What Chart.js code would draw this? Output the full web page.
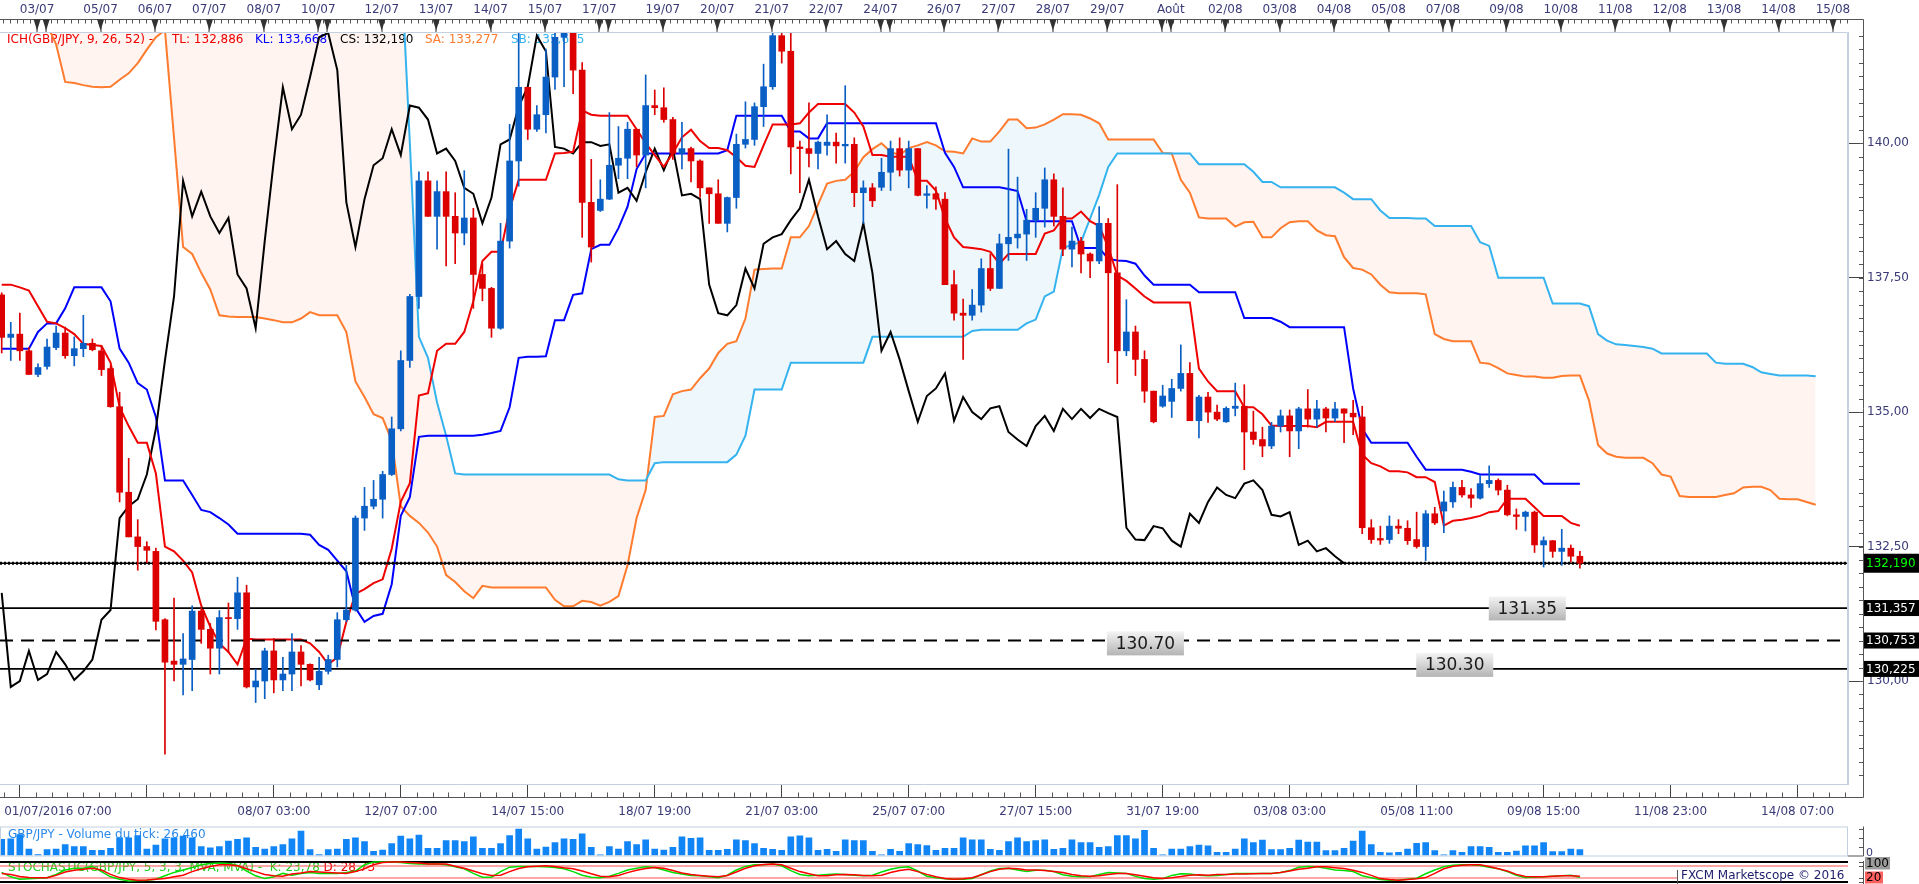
<!DOCTYPE html>
<html>
<head>
<meta charset="utf-8">
<script src="https://cdn.jsdelivr.net/npm/chart.js@4.4.1/dist/chart.umd.min.js"></script>
<style>
  body { margin: 0; background: #fff; }
  canvas { position: absolute; left: 0; top: 0; }
</style>
</head>
<body>
<canvas id="mainChart" width="1919" height="884"></canvas>
<canvas id="volChart" width="1919" height="884"></canvas>
<canvas id="stochChart" width="1919" height="884"></canvas>
<script>
// GBP/JPY 4h candles, bar index 0..174
const opens = [
  137.18,136.39,136.45,136.14,135.70,135.85,136.20,136.47,136.05,136.18,
  136.28,136.14,135.81,135.10,133.51,132.68,132.50,132.41,131.14,130.37,
  130.31,130.40,131.30,130.96,130.61,131.18,131.16,131.64,129.89,130.00,
  130.56,130.02,130.13,130.54,130.31,129.93,130.18,130.40,131.14,131.32,
  133.03,133.25,133.38,133.84,134.69,135.96,137.15,139.30,138.64,139.10,
  138.64,138.33,138.61,137.56,137.30,136.56,138.18,139.67,141.04,140.26,
  140.53,141.23,141.97,142.05,141.36,138.90,138.75,138.96,139.59,139.72,
  140.26,139.78,140.70,140.66,140.44,139.81,139.90,139.67,139.17,139.06,
  138.51,138.99,139.98,140.07,140.68,141.05,142.00,141.71,139.93,139.90,
  139.81,139.96,140.02,139.95,139.98,139.08,139.17,139.18,139.46,139.90,
  139.50,139.90,139.03,139.06,138.96,137.37,136.84,136.80,136.99,137.67,
  137.30,138.13,138.24,138.31,138.57,138.79,139.32,138.64,138.03,138.18,
  137.94,137.81,138.51,137.59,136.14,136.49,135.98,135.39,135.11,135.20,
  135.44,135.72,134.84,135.28,135.00,134.82,135.07,135.11,134.63,134.49,
  134.37,134.74,134.93,134.65,135.06,134.87,135.06,134.89,135.06,134.98,
  134.91,132.85,132.65,132.63,132.88,132.84,132.63,132.50,133.11,133.16,
  133.33,133.60,133.46,133.40,133.67,133.73,133.55,133.09,133.06,133.14,
  132.53,132.61,132.41,132.47,132.32
];
const highs = [
  137.22,136.67,136.84,136.20,135.90,136.36,136.60,136.58,136.40,136.80,
  136.36,136.23,135.86,135.37,134.14,133.00,132.59,132.47,131.16,131.54,
  130.88,131.40,131.36,131.07,131.31,131.45,131.93,131.78,130.22,130.61,
  130.79,130.44,130.88,130.66,130.32,130.44,130.48,131.27,132.15,133.07,
  133.60,133.73,133.90,134.91,136.14,137.19,139.47,139.47,139.30,139.47,
  139.08,139.49,138.79,137.76,137.32,138.51,140.35,142.30,141.04,140.70,
  141.75,142.30,142.40,142.50,141.50,139.70,139.32,140.57,140.31,140.39,
  140.26,141.27,140.99,141.03,140.48,140.39,139.93,139.69,139.17,139.32,
  139.00,140.17,140.77,140.75,141.47,142.20,142.10,142.06,140.04,140.75,
  140.04,140.53,140.19,141.07,140.10,139.30,139.25,139.72,140.04,140.10,
  140.04,139.90,139.21,139.19,139.08,137.63,137.10,137.28,137.85,137.94,
  138.31,139.89,139.37,138.77,139.08,139.54,139.43,139.17,138.44,138.25,
  137.96,138.82,138.60,139.23,137.09,136.60,136.14,135.39,135.50,135.61,
  136.25,135.92,135.31,135.37,135.13,135.10,135.54,135.51,135.02,134.72,
  134.81,135.04,135.04,135.09,135.42,135.22,135.09,135.18,135.06,135.22,
  135.11,133.00,132.88,133.07,133.00,132.98,133.14,133.17,133.23,133.53,
  133.70,133.73,133.58,133.82,134.00,133.76,133.64,133.20,133.16,133.16,
  132.68,132.61,132.82,132.53,132.41
];
const lows = [
  136.10,135.96,135.96,135.70,135.66,135.80,136.16,136.00,135.86,136.03,
  136.14,135.68,135.09,133.33,132.68,132.06,132.20,130.95,128.64,130.00,
  129.74,129.82,130.70,130.13,130.13,130.53,130.96,129.87,129.60,129.67,
  129.78,129.82,129.82,129.91,130.00,129.84,130.13,130.26,131.10,131.30,
  132.80,133.20,133.03,133.82,134.65,135.83,136.93,138.64,138.03,137.72,
  137.76,138.11,136.93,137.07,136.39,136.54,138.05,139.20,140.07,140.22,
  140.19,141.00,141.05,140.92,138.25,137.79,138.73,138.95,139.34,139.34,
  139.56,139.17,140.53,140.39,139.70,139.52,139.28,138.99,138.51,138.51,
  138.35,138.79,139.91,139.96,140.31,141.00,141.49,139.43,139.08,139.56,
  139.52,139.78,139.63,139.63,138.82,138.51,138.82,139.12,139.12,139.39,
  139.17,139.02,138.79,138.77,137.37,136.71,135.98,136.71,136.86,137.26,
  137.30,137.82,138.05,137.82,138.25,138.44,138.46,137.91,137.70,137.59,
  137.50,137.76,135.92,135.53,136.05,135.68,135.18,134.80,135.09,134.90,
  135.39,134.84,134.52,134.81,134.84,134.81,134.93,133.93,134.40,134.17,
  134.32,134.63,134.17,134.32,134.72,134.72,134.63,134.82,134.43,134.58,
  132.74,132.56,132.54,132.56,132.74,132.54,132.47,132.24,132.91,132.76,
  133.23,133.42,133.23,133.38,133.60,133.46,133.07,132.82,132.79,132.39,
  132.12,132.30,132.15,132.21,132.10
];
const closes = [
  136.39,136.45,136.14,135.70,135.83,136.21,136.47,136.05,136.18,136.28,
  136.16,135.79,135.10,133.51,132.68,132.50,132.43,131.11,130.35,130.31,
  130.41,131.30,130.96,130.61,131.18,131.16,131.64,129.89,130.00,130.56,
  130.02,130.13,130.54,130.31,130.02,130.18,130.40,131.14,131.32,133.03,
  133.25,133.38,133.84,134.69,135.96,137.15,139.30,138.64,139.10,138.64,
  138.33,138.61,137.56,137.30,136.56,138.18,139.67,141.04,140.26,140.53,
  141.23,141.97,142.05,141.36,138.90,138.07,138.96,139.59,139.72,140.26,
  139.78,140.70,140.66,140.44,139.81,139.90,139.67,139.17,139.06,138.51,
  138.99,139.98,140.07,140.68,141.05,142.00,141.71,139.93,139.90,139.81,
  140.02,140.02,139.95,139.98,139.08,139.17,138.93,139.46,139.90,139.50,
  139.90,139.03,139.06,138.96,137.37,136.84,136.80,136.99,137.67,137.30,
  138.13,138.25,138.31,138.57,138.79,139.32,138.64,138.03,138.18,137.94,
  137.81,138.51,137.59,136.14,136.49,135.98,135.39,134.82,135.30,135.44,
  135.72,134.84,135.28,135.00,134.87,135.07,135.11,134.63,134.49,134.37,
  134.74,134.93,134.65,135.06,134.87,135.06,134.89,135.06,134.98,134.91,
  132.85,132.63,132.62,132.88,132.84,132.61,132.50,133.11,132.94,133.33,
  133.60,133.46,133.40,133.67,133.73,133.55,133.09,133.06,133.14,132.53,
  132.61,132.41,132.47,132.32,132.190
];

// Ichimoku lines
const tenkan = [
  137.37,137.37,137.32,137.26,136.97,136.68,136.65,136.56,136.45,136.27,
  136.25,136.23,135.92,135.09,134.74,134.43,134.43,133.86,132.50,132.41,
  132.24,132.02,131.40,131.01,130.70,130.54,130.31,130.79,130.77,130.77,
  130.77,130.77,130.77,130.77,130.70,130.54,130.31,130.44,131.10,131.62,
  131.71,131.82,131.89,132.46,133.33,133.68,135.31,135.35,136.14,136.27,
  136.27,136.49,137.06,137.81,137.98,137.98,138.77,139.32,139.32,139.32,
  139.32,139.81,139.82,139.84,140.61,140.53,140.51,140.51,140.51,140.51,
  140.26,140.00,139.78,139.56,139.82,140.11,140.25,140.04,139.91,139.91,
  139.87,139.74,139.58,139.56,139.96,140.35,140.35,140.35,140.37,140.57,
  140.73,140.73,140.73,140.73,140.57,140.31,139.78,139.78,139.75,139.75,
  139.75,139.30,139.30,139.12,138.60,138.25,138.07,138.05,138.03,137.98,
  137.76,137.94,137.94,137.94,137.94,138.32,138.38,138.60,138.60,138.73,
  138.55,138.46,138.07,137.54,137.44,137.30,137.15,137.04,137.04,137.04,
  137.04,137.04,135.81,135.57,135.39,135.39,135.39,135.09,135.09,134.96,
  134.75,134.74,134.74,134.74,134.74,134.72,134.82,134.82,134.82,134.82,
  134.21,134.05,133.99,133.90,133.90,133.88,133.79,133.79,133.70,132.89,
  132.98,133.00,133.03,133.07,133.14,133.16,133.39,133.39,133.39,133.23,
  133.07,133.07,133.07,132.94,132.886
];
const kijun = [
  136.18,136.18,136.18,136.18,136.49,136.65,136.65,136.93,137.32,137.32,
  137.32,137.32,137.06,136.18,135.92,135.54,135.42,134.91,133.73,133.73,
  133.73,133.46,133.18,133.14,133.03,132.91,132.74,132.74,132.74,132.74,
  132.74,132.74,132.74,132.74,132.72,132.53,132.44,132.24,132.04,131.36,
  131.10,131.21,131.25,131.80,133.07,133.42,134.54,134.56,134.56,134.56,
  134.56,134.56,134.56,134.58,134.61,134.65,135.09,136.01,136.03,136.03,
  136.04,136.71,136.71,137.18,137.21,138.03,138.11,138.11,138.42,138.82,
  139.52,139.81,139.81,139.81,139.81,139.81,139.81,139.81,139.81,139.81,
  139.87,140.51,140.51,140.51,140.51,140.51,140.51,140.22,140.22,140.09,
  140.09,140.37,140.37,140.37,140.37,140.37,140.37,140.37,140.37,140.37,
  140.37,140.37,140.37,140.37,139.82,139.56,139.18,139.18,139.18,139.18,
  139.18,139.15,139.11,138.55,138.55,138.55,138.55,138.55,138.55,138.05,
  138.05,138.05,137.85,137.82,137.81,137.76,137.54,137.37,137.37,137.37,
  137.37,137.37,137.23,137.23,137.23,137.23,137.23,136.75,136.75,136.75,
  136.75,136.68,136.58,136.58,136.58,136.58,136.58,136.58,136.58,135.44,
  134.69,134.43,134.43,134.43,134.43,134.43,134.17,133.93,133.93,133.93,
  133.93,133.93,133.89,133.84,133.84,133.84,133.84,133.84,133.84,133.84,
  133.668,133.668,133.668,133.668,133.668
];
// senkou spans already shifted 26 bars ahead (index 0..200)
const senkouA = [
  143.20,143.00,142.80,142.60,142.40,142.20,141.84,141.14,141.12,141.08,
  141.05,141.04,141.05,141.18,141.30,141.49,141.74,141.97,142.10,140.10,
  138.07,137.94,137.59,137.28,136.80,136.78,136.77,136.77,136.77,136.74,
  136.71,136.67,136.67,136.74,136.86,136.80,136.80,136.80,136.49,135.57,
  135.28,134.96,134.89,134.47,133.25,133.07,132.94,132.76,132.50,131.97,
  131.84,131.67,131.54,131.77,131.74,131.74,131.74,131.74,131.74,131.74,
  131.74,131.51,131.39,131.39,131.49,131.47,131.40,131.47,131.58,132.15,
  133.03,133.55,134.91,134.93,135.33,135.39,135.42,135.63,135.81,136.10,
  136.27,136.32,136.74,137.65,137.66,137.67,137.67,138.25,138.25,138.46,
  138.86,139.25,139.30,139.32,139.47,139.74,139.89,140.00,139.84,139.78,
  139.91,139.96,140.02,139.96,139.85,139.84,139.81,140.09,140.03,140.03,
  140.22,140.44,140.44,140.28,140.29,140.35,140.44,140.54,140.54,140.53,
  140.46,140.37,140.07,140.07,140.07,140.07,140.07,140.07,139.82,139.81,
  139.32,139.08,138.62,138.60,138.60,138.60,138.45,138.53,138.54,138.25,
  138.25,138.42,138.53,138.55,138.55,138.38,138.29,138.27,137.88,137.68,
  137.65,137.56,137.37,137.23,137.21,137.21,137.21,137.19,136.45,136.36,
  136.32,136.32,136.32,135.92,135.90,135.82,135.72,135.69,135.66,135.66,
  135.64,135.64,135.67,135.68,135.68,135.22,134.39,134.23,134.17,134.15,
  134.15,134.15,134.05,133.84,133.80,133.44,133.42,133.42,133.42,133.42,
  133.46,133.49,133.60,133.61,133.61,133.55,133.39,133.38,133.38,133.33,
  133.277
];
const senkouB = [
  143.5,143.5,143.5,143.5,143.5,143.5,143.5,143.5,143.5,143.5,
  143.5,143.5,143.5,143.5,143.5,143.5,143.5,143.5,143.5,143.5,
  143.5,143.5,143.5,143.5,143.5,143.5,143.5,143.5,143.5,143.5,
  143.5,143.5,143.5,143.5,143.5,143.5,143.5,143.5,143.5,143.5,
  143.5,143.5,143.5,143.5,143.5,140.00,136.40,136.01,135.18,134.56,
  133.86,133.84,133.84,133.84,133.84,133.84,133.84,133.84,133.84,133.84,
  133.84,133.84,133.84,133.84,133.84,133.84,133.84,133.84,133.75,133.73,
  133.73,133.73,134.05,134.07,134.07,134.07,134.07,134.07,134.07,134.07,
  134.07,134.21,134.56,135.42,135.42,135.42,135.42,135.92,135.92,135.92,
  135.92,135.92,135.92,135.92,135.92,135.92,136.40,136.40,136.40,136.40,
  136.40,136.40,136.40,136.40,136.40,136.40,136.40,136.51,136.53,136.53,
  136.53,136.53,136.53,136.65,136.72,137.15,137.24,138.05,138.11,138.16,
  138.60,139.04,139.56,139.81,139.81,139.81,139.81,139.81,139.81,139.81,
  139.81,139.81,139.61,139.61,139.61,139.61,139.61,139.61,139.47,139.28,
  139.28,139.18,139.18,139.18,139.18,139.18,139.18,139.18,139.08,138.96,
  138.96,138.96,138.75,138.61,138.61,138.61,138.60,138.60,138.46,138.46,
  138.46,138.46,138.46,138.16,138.09,137.50,137.50,137.50,137.50,137.50,
  137.50,137.02,137.02,137.02,137.02,136.97,136.45,136.33,136.26,136.25,
  136.23,136.21,136.18,136.09,136.09,136.09,136.09,136.09,136.09,135.92,
  135.90,135.90,135.90,135.84,135.74,135.71,135.68,135.68,135.68,135.68,
  135.665
];
const chikouShift = 26;

// horizontal price levels
const levels = [132.190, 131.357, 130.753, 130.225];
const levelLabels = ['131.35', '130.70', '130.30'];
const levelLabelValues = [131.35, 130.70, 130.30];
const levelLabelBars = [168.2, 126.1, 160.2];

// tick volume
const volume = [
  73500,76440,95550,29400,4410,26460,29400,49980,41160,41160,
  23520,23520,32340,80850,80850,91140,29400,47040,76440,80850,
  88200,80850,41160,35280,41160,66150,73500,80850,36750,29400,
  41160,49980,76440,111720,26460,4410,26460,29400,73500,80850,
  63210,19110,24990,54390,88200,76440,92610,32340,32340,67620,
  67620,63210,85260,32340,32340,54390,91140,120540,76440,29400,
  38220,58800,76440,73500,98490,36750,2940,41160,29400,63210,
  49980,72030,29400,24990,36750,85260,77910,80850,23520,23520,
  27930,72030,67620,54390,32340,27930,23520,85260,89670,80850,
  23520,27930,19110,72030,67620,67620,19110,2940,27930,19110,
  54390,49980,45570,23520,32340,32340,80850,72030,72030,27930,
  23520,63210,80850,63210,67620,72030,27930,32340,72030,58800,
  58800,36750,41160,91140,91140,76440,114660,32340,2940,29400,
  29400,41160,47040,44100,14700,14700,29400,76440,58800,70560,
  26460,26460,32340,70560,61740,61740,22050,22050,32340,66150,
  111720,49980,14700,11760,14700,29400,55860,58800,22050,2940,
  22050,14700,41160,41160,36750,14700,14700,20580,44100,44100,
  58800,17640,17640,29400,26460
];

// stochastic 5,3,3
const stochK = [
  48,26,14,16,19,21,38,60,69,69,78,52,26,14,5,7,9,14,31,48,
  60,72,86,93,95,93,83,55,31,17,26,43,34,43,48,43,43,43,48,55,
  86,100,100,100,97,93,90,90,90,86,76,66,43,24,24,52,74,78,78,78,
  76,73,66,52,34,24,21,29,43,60,69,76,72,60,48,40,33,31,26,21,
  34,60,78,86,86,90,81,57,38,31,34,38,40,38,34,31,34,50,64,72,
  76,55,29,21,16,14,14,17,36,55,67,69,60,52,59,59,52,36,29,26,
  26,38,48,45,43,28,17,14,17,33,41,40,34,31,33,38,43,43,43,43,
  43,48,57,74,78,76,69,60,57,52,31,21,12,9,10,14,19,41,60,76,
  84,86,86,83,74,66,52,34,22,24,26,29,31,34,23.78
];
const stochD = [
  43,38,28,22,21,21,33,50,59,64,69,60,38,22,14,9,10,14,17,26,
  34,52,66,78,86,86,81,66,52,38,31,29,40,45,52,50,48,45,43,52,
  66,86,97,100,100,98,95,90,90,90,79,69,55,41,33,34,52,67,76,79,
  81,78,71,66,55,41,29,26,33,47,59,67,72,69,57,45,38,33,29,26,
  33,50,69,81,88,90,86,69,52,41,31,31,36,38,36,33,31,34,47,57,
  64,52,38,26,17,14,16,21,36,52,64,69,66,60,60,57,53,47,38,31,
  29,31,38,43,43,36,29,21,17,21,28,34,36,34,38,38,40,40,41,43,
  43,47,55,64,69,76,76,71,67,59,48,33,17,12,9,12,16,22,43,66,
  79,84,86,86,78,66,55,38,28,26,26,29,31,31,28.73
];
const stochLevels = [100, 80, 20, 0];

// axis labels
const priceTicks = [130, 132.5, 135, 137.5, 140];
const bottomTickBars = [2, 6.2, 16, 30, 44, 58, 72, 86, 100, 114, 128, 142, 156, 170, 184, 198];
const bottomTickLabels = ['', '01/07/2016 07:00', '', '08/07 03:00', '12/07 07:00', '14/07 15:00', '18/07 19:00',
  '21/07 03:00', '25/07 07:00', '27/07 15:00', '31/07 19:00', '03/08 03:00', '05/08 11:00', '09/08 15:00',
  '11/08 23:00', '14/08 07:00'];
const topLabels = ['03/07','05/07','06/07','07/07','08/07','10/07','12/07','13/07','14/07','15/07','17/07',
  '19/07','20/07','21/07','22/07','24/07','26/07','27/07','28/07','29/07','Août','02/08','03/08','04/08',
  '05/08','07/08','09/08','10/08','11/08','12/08','13/08','14/08','15/08'];
const topLabelBars = [3.9,10.9,16.9,22.9,28.9,34.9,41.9,47.9,53.9,59.9,65.9,72.9,78.9,84.9,90.9,96.9,
  103.9,109.9,115.9,121.9,128.9,134.9,140.9,146.9,152.9,158.9,165.9,171.9,177.9,183.9,189.9,195.9,201.9];
const topExtraMarks = [4.9, 35.9, 66.9, 97.9, 127.9, 159.9];

const FONT = '"DejaVu Sans", Verdana, sans-serif';
const AXIS_TXT = '#3a3a78';
const UP = '#0a5fc4', DOWN = '#dc0000';
const xMin = -0.187, xMax = 203.56;
const yMin = 128.085, yMax = 142.068;
const AX_X = 1863.5;

const pts = (arr, shift = 0) => arr.map((v, i) => ({ x: i + shift, y: v }));
const flat = v => [{ x: xMin, y: v }, { x: xMax, y: v }];
const candleColor = c => closes[c.dataIndex] >= opens[c.dataIndex] ? UP : DOWN;
const comma = (v, d) => v.toFixed(d).replace('.', ',');

const lineDs = (data, color, order, extra) => Object.assign({
  type: 'line', data: data, borderColor: color, borderWidth: 2, pointRadius: 0, tension: 0, order: order
}, extra || {});

const mainDeco = {
  id: 'mainDeco',
  beforeDatasetsDraw(chart) {
    const c = chart.ctx;
    c.save();
    c.font = '12px ' + FONT;
    c.textBaseline = 'middle';
    const parts = [
      ['ICH(GBP/JPY, 9, 26, 52) -', 7, '#f00000'],
      ['TL: ' + comma(tenkan[tenkan.length - 1], 3), 172, '#f00000'],
      ['KL: ' + comma(kijun[kijun.length - 1], 3), 255, '#0000ff'],
      ['CS: ' + comma(closes[closes.length - 1], 3), 340, '#000'],
      ['SA: ' + comma(senkouA[senkouA.length - 1], 3), 425, '#ff7b2e'],
      ['SB: ' + comma(senkouB[senkouB.length - 1], 3), 511, '#35b3ef']
    ];
    parts.forEach(p => { c.fillStyle = p[2]; c.fillText(p[0], p[1], 40); });
    c.restore();
  },
  afterDraw(chart) {
    const c = chart.ctx, a = chart.chartArea, x = chart.scales.x, y = chart.scales.y;
    const topY = 19.5, botY = 797.5;
    c.save();
    c.lineWidth = 1;
    c.strokeStyle = '#c3d0e0';
    c.beginPath();
    c.moveTo(0, a.top + 0.5); c.lineTo(a.right - 0.5, a.top + 0.5); c.lineTo(a.right - 0.5, a.bottom);
    c.stroke();

    c.strokeStyle = '#555';
    c.beginPath();
    c.moveTo(0, topY); c.lineTo(AX_X, topY); c.lineTo(AX_X, botY); c.lineTo(0, botY);
    for (let v = topLabelBars[0] - 4.5; v < xMax; v += 0.75) {
      const px = Math.round(x.getPixelForValue(v)) + 0.5;
      if (px < 0) continue;
      c.moveTo(px, topY); c.lineTo(px, topY + 4);
    }
    for (let k = -1; 2 + k * 1.75 < xMax; k++) {
      if (k % 8 === 0) continue;
      const px = Math.round(x.getPixelForValue(2 + k * 1.75)) + 0.5;
      if (px < 0) continue;
      c.moveTo(px, botY); c.lineTo(px, botY - 5);
    }
    for (let v = 128.25; v < yMax; v += 0.25) {
      const py = Math.round(y.getPixelForValue(v)) + 0.5;
      c.moveTo(AX_X - 4.5, py); c.lineTo(AX_X, py);
    }
    c.stroke();

    c.fillStyle = '#333';
    topLabelBars.concat(topExtraMarks).forEach(v => {
      const px = x.getPixelForValue(v);
      c.beginPath();
      c.moveTo(px - 3.5, topY); c.lineTo(px + 3.5, topY); c.lineTo(px, topY + 11);
      c.closePath(); c.fill();
      c.fillRect(Math.round(px) - 0.5, topY, 1, a.top - topY);
    });
    c.font = '12px ' + FONT;
    c.fillStyle = AXIS_TXT;
    c.textAlign = 'center';
    c.textBaseline = 'middle';
    topLabels.forEach((t, i) => c.fillText(t, x.getPixelForValue(topLabelBars[i]), 9.5));

    // gray level tags
    c.font = '17px ' + FONT;
    levelLabels.forEach((t, i) => {
      const px = x.getPixelForValue(levelLabelBars[i]), py = y.getPixelForValue(levelLabelValues[i]);
      const g = c.createLinearGradient(0, py - 12, 0, py + 12);
      g.addColorStop(0, '#f4f4f4'); g.addColorStop(1, '#b4b4b4');
      c.fillStyle = g;
      c.fillRect(px - 38.5, py - 12, 77, 24);
      c.fillStyle = '#1a1a1a';
      c.fillText(t, px, py + 1);
    });

    // price boxes on the axis
    c.font = '12px ' + FONT;
    c.textAlign = 'left';
    levels.forEach((v, i) => {
      const py = y.getPixelForValue(v);
      const h = i === 0 ? 19 : 16;
      c.fillStyle = '#000';
      c.fillRect(1864, py - h / 2, 55, h);
      c.fillStyle = i === 0 ? '#00ff00' : '#fff';
      c.fillText(comma(v, 3), 1866, py + 0.5);
    });
    c.restore();
  }
};

new Chart(document.getElementById('mainChart'), {
  type: 'bar',
  data: {
    datasets: [
      lineDs(pts(senkouB), '#35b3ef', 6),
      lineDs(pts(senkouA), '#ff7b2e', 6, { fill: { target: 0, above: '#eef7fc', below: '#fff4f0' } }),
      lineDs(pts(kijun), '#0000ff', 5),
      lineDs(pts(tenkan), '#f00000', 4),
      lineDs(closes.slice(chikouShift).map((v, i) => ({ x: i, y: v })), '#000000', 4),
      lineDs(flat(levels[0]), '#000', 3, { borderWidth: 1.5 }),
      lineDs(flat(levels[0]), '#000', 3, { borderWidth: 3, borderDash: [2, 2] }),
      lineDs(flat(levels[1]), '#000', 3, { borderWidth: 1.8 }),
      lineDs(flat(levels[2]), '#000', 3, { borderWidth: 1.8, borderDash: [13, 8] }),
      lineDs(flat(levels[3]), '#000', 3, { borderWidth: 1.8 }),
      { data: highs.map((h, i) => ({ x: i, y: [lows[i], h] })), backgroundColor: candleColor,
        barThickness: 1, grouped: false, borderWidth: 0, order: 1 },
      { data: opens.map((o, i) => ({ x: i, y: [o, closes[i]] })), backgroundColor: candleColor,
        barThickness: 6, minBarLength: 1, grouped: false, borderWidth: 0, order: 0 }
    ]
  },
  options: {
    responsive: false,
    animation: false,
    devicePixelRatio: 1,
    layout: { autoPadding: false, padding: { top: 32, left: 0, right: 0, bottom: 62 } },
    plugins: { legend: { display: false }, tooltip: { enabled: false }, filler: { drawTime: 'beforeDatasetsDraw' } },
    scales: {
      x: {
        type: 'linear', min: xMin, max: xMax, offset: false, position: 'bottom',
        afterBuildTicks: s => { s.ticks = bottomTickBars.map(v => ({ value: v })); },
        afterFit: s => { s.height = 38; },
        grid: { offset: false, drawOnChartArea: false, tickLength: 13,
          tickColor: c => (c.tick && c.tick.value === 6.2) ? 'rgba(0,0,0,0)' : '#444' },
        border: { display: true, color: '#c3d0e0' },
        ticks: { autoSkip: false, maxRotation: 0, minRotation: 0, padding: 8, color: AXIS_TXT,
          font: { family: FONT, size: 12 }, callback: (v, i) => bottomTickLabels[i] }
      },
      y: {
        type: 'linear', position: 'right', min: yMin, max: yMax,
        afterBuildTicks: s => { s.ticks = priceTicks.map(v => ({ value: v })); },
        afterFit: s => { s.width = 71; },
        grid: { drawOnChartArea: false, tickLength: 15, tickColor: '#444' },
        border: { display: true, color: '#c3d0e0' },
        ticks: { padding: 4, color: AXIS_TXT, font: { family: FONT, size: 12 }, callback: v => comma(v, 2) }
      }
    }
  },
  plugins: [mainDeco]
});

// volume panel
const volDeco = {
  id: 'volDeco',
  beforeDatasetsDraw(chart) {
    const c = chart.ctx;
    const last = volume[volume.length - 1];
    c.save();
    c.font = '12px ' + FONT;
    c.textBaseline = 'middle';
    c.fillStyle = '#2a8ae8';
    c.fillText('GBP/JPY - Volume du tick: ' + Math.floor(last / 1000) + ' ' + String(last % 1000).padStart(3, '0'), 8, 835);
    c.restore();
  },
  afterDraw(chart) {
    const c = chart.ctx, a = chart.chartArea, y = chart.scales.y;
    c.save();
    c.strokeStyle = '#c3d0e0';
    c.lineWidth = 1;
    c.strokeRect(0.5, a.top + 0.5, a.right - 1, a.bottom - a.top);
    c.strokeStyle = '#555';
    c.beginPath();
    c.moveTo(AX_X, a.top); c.lineTo(AX_X, a.bottom + 0.5);
    c.moveTo(a.right, a.bottom + 0.5); c.lineTo(AX_X, a.bottom + 0.5);
    [40000, 80000, 120000].forEach(v => {
      const py = Math.round(y.getPixelForValue(v)) + 0.5;
      c.moveTo(AX_X - 4.5, py); c.lineTo(AX_X, py);
    });
    c.stroke();
    c.font = '11px ' + FONT;
    c.fillStyle = AXIS_TXT;
    c.textBaseline = 'middle';
    c.fillText('0', 1866, a.bottom - 2);
    c.restore();
  }
};

new Chart(document.getElementById('volChart'), {
  type: 'bar',
  data: {
    datasets: [{ data: pts(volume), backgroundColor: '#1184f6', barThickness: 6, grouped: false, borderWidth: 0 }]
  },
  options: {
    responsive: false,
    animation: false,
    devicePixelRatio: 1,
    layout: { autoPadding: false, padding: { top: 826.5, left: 0, right: 71, bottom: 28.5 } },
    plugins: { legend: { display: false }, tooltip: { enabled: false } },
    scales: {
      x: { type: 'linear', display: false, min: xMin, max: xMax, offset: false, grid: { offset: false } },
      y: { display: false, min: 0, max: 132300 }
    }
  },
  plugins: [volDeco]
});

// stochastic panel
const stochDeco = {
  id: 'stochDeco',
  beforeDatasetsDraw(chart) {
    const c = chart.ctx;
    c.save();
    c.font = '12px ' + FONT;
    c.textBaseline = 'middle';
    const s1 = 'STOCHASTIC(GBP/JPY, 5, 3, 3, MVA, MVA) -  K: ' + comma(stochK[stochK.length - 1], 2) + ' ';
    c.fillStyle = '#22d022';
    c.fillText(s1, 8, 868);
    c.fillStyle = '#f00000';
    c.fillText('D: ' + comma(stochD[stochD.length - 1], 2), 8 + c.measureText(s1).width, 868);
    c.restore();
  },
  afterDraw(chart) {
    const c = chart.ctx, a = chart.chartArea, y = chart.scales.y;
    c.save();
    c.fillStyle = '#fff';
    c.fillRect(1678, 870, 170, 11);
    c.strokeStyle = '#555';
    c.lineWidth = 1;
    c.beginPath();
    c.moveTo(1677.5, 870); c.lineTo(1677.5, 884);
    c.moveTo(AX_X, a.top - 1); c.lineTo(AX_X, 884);
    stochLevels.forEach(v => {
      const py = Math.round(y.getPixelForValue(v)) + 0.5;
      c.moveTo(AX_X - 4.5, py); c.lineTo(AX_X, py);
    });
    c.stroke();
    c.font = '12px ' + FONT;
    c.textBaseline = 'middle';
    c.fillStyle = '#1c1c6a';
    c.fillText('FXCM Marketscope \u00a9 2016', 1681, 876);
    c.fillStyle = '#9c9c9c';
    c.fillRect(1865, 857, 25, 12.5);
    c.fillStyle = '#ff6060';
    c.fillRect(1865, 871.5, 18, 12);
    c.fillStyle = '#000';
    c.fillText(String(stochLevels[0]), 1866, 863.5);
    c.fillText(String(stochLevels[2]), 1866, 878);
    c.restore();
  }
};

new Chart(document.getElementById('stochChart'), {
  type: 'line',
  data: {
    datasets: [
      lineDs(flat(stochLevels[0]), '#000', 5, { borderWidth: 2, clip: 3 }),
      lineDs(flat(stochLevels[1]), '#ff5050', 5, { borderWidth: 1.2 }),
      lineDs(flat(stochLevels[2]), '#ff5050', 5, { borderWidth: 1.2 }),
      lineDs(flat(stochLevels[3]), '#000', 5, { borderWidth: 2, clip: 3 }),
      lineDs(pts(stochK), '#00dd00', 2, { borderWidth: 1.5, clip: 3 }),
      lineDs(pts(stochD), '#ff0000', 1, { borderWidth: 1.5, clip: 3 })
    ]
  },
  options: {
    responsive: false,
    animation: false,
    devicePixelRatio: 1,
    layout: { autoPadding: false, padding: { top: 862, left: 0, right: 71, bottom: 2 } },
    plugins: { legend: { display: false }, tooltip: { enabled: false } },
    scales: {
      x: { type: 'linear', display: false, min: xMin, max: xMax },
      y: { display: false, min: 0, max: 100 }
    }
  },
  plugins: [stochDeco]
});
</script>
</body>
</html>
